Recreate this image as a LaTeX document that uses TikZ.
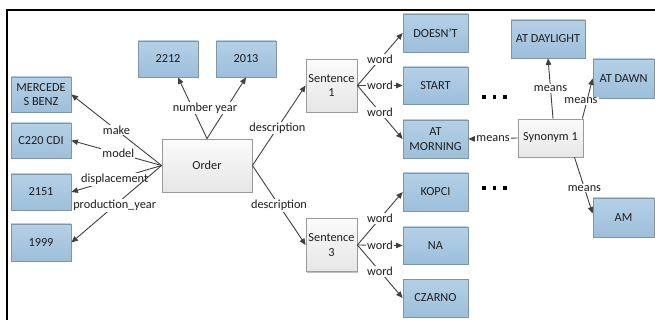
\documentclass[tikz,border=0pt]{standalone}
\usepackage{fontspec}
\setmainfont{Carlito}
\usetikzlibrary{arrows.meta,shadows,calc}

\definecolor{blueTop}{HTML}{B4D0E6}
\definecolor{blueBot}{HTML}{9DBFDB}
\definecolor{blueLine}{HTML}{7E96A8}
\definecolor{greyTop}{HTML}{FBFBFB}
\definecolor{greyBot}{HTML}{E6E6E6}
\definecolor{greyLine}{HTML}{9A9A9A}
\definecolor{edgeCol}{HTML}{404040}
\definecolor{txt}{HTML}{1E1E1E}

\tikzset{
  base/.style={rectangle, draw, line width=0.8pt, align=center, inner sep=1pt,
    text=txt, font=\fontsize{12.3}{14.5}\selectfont,
    drop shadow={shadow xshift=1pt, shadow yshift=-1pt, opacity=0.25, fill=black}},
  valbox/.style={base, draw=blueLine, top color=blueTop, bottom color=blueBot},
  entbox/.style={base, draw=greyLine, top color=greyTop, bottom color=greyBot},
  rel/.style={draw=edgeCol, line width=0.9pt, -{Triangle[length=6.5pt,width=5.5pt]}},
  lbl/.style={fill=white, inner sep=1pt, text=txt, font=\fontsize{12.3}{14.5}\selectfont},
}

\begin{document}
\begin{tikzpicture}[x=1pt, y=-1pt]
\useasboundingbox (0,0) rectangle (655,320);

% frame
\draw[line width=1.2pt, black] (7,320) -- (7,10) -- (655,10);

% car attributes
\node[valbox, minimum width=60pt, minimum height=35pt] (merc) at (41,94.5) {MERCEDE\\S BENZ};
\node[valbox, minimum width=60pt, minimum height=35pt] (c220) at (41,140.5) {C220 CDI};
\node[valbox, minimum width=60pt, minimum height=36pt] (disp) at (41,192) {2151};
\node[valbox, minimum width=60pt, minimum height=37pt] (prod) at (41,242.5) {1999};
\node[valbox, minimum width=60pt, minimum height=36pt] (numA) at (168,59) {2212};
\node[valbox, minimum width=60pt, minimum height=36pt] (numB) at (246,59) {2013};

% order and sentences
\node[entbox, minimum width=90pt, minimum height=53pt] (order) at (207,165.5) {Order};
\node[entbox, minimum width=51pt, minimum height=53pt] (sentA) at (331.5,85.5) {Sentence\\1};
\node[entbox, minimum width=51pt, minimum height=53pt] (sentC) at (331.5,245) {Sentence\\3};

% words
\node[valbox, minimum width=65pt, minimum height=38pt] (wDoesnt) at (435.5,33) {DOESN'T};
\node[valbox, minimum width=65pt, minimum height=37pt] (wStart) at (435.5,85.5) {START};
\node[valbox, minimum width=65pt, minimum height=38pt] (wMorning) at (435.5,139) {AT\\MORNING};
\node[valbox, minimum width=65pt, minimum height=38pt] (wKopci) at (435.5,192) {KOPCI};
\node[valbox, minimum width=65pt, minimum height=37pt] (wNa) at (435.5,245.5) {NA};
\node[valbox, minimum width=65pt, minimum height=38pt] (wCzarno) at (435.5,298) {CZARNO};

% synonyms
\node[entbox, minimum width=65pt, minimum height=38pt] (syn) at (550.5,138) {Synonym 1};
\node[valbox, minimum width=74pt, minimum height=38pt] (daylight) at (548,39) {AT DAYLIGHT};
\node[valbox, minimum width=61pt, minimum height=39pt] (dawn) at (623.5,78.5) {AT DAWN};
\node[valbox, minimum width=61pt, minimum height=39pt] (am) at (623.5,217.5) {AM};

% ellipses
\foreach \yy in {97,188} {
  \foreach \xx in {484,494.5,505} {
    \fill[black] (\xx-1.6,\yy-1.6) rectangle (\xx+1.6,\yy+1.6);
  }
}

% order relations
\draw[rel] (order.west) -- node[lbl, pos=0.5] {make} (merc.east);
\draw[rel] (order.west) -- node[lbl, pos=0.48] {model} (c220.east);
\draw[rel] (order.west) -- node[lbl, pos=0.52] {displacement} (disp.east);
\draw[rel] (order.west) -- node[lbl, pos=0.52] {production\_year} (prod.east);
\draw[rel] (order.north) -- ([xshift=10pt]numA.south);
\draw[rel] (order.north) -- (numB.south);
\node[lbl] (numLbl) at (205,108) {number year};
\draw[rel] (order.east) -- node[lbl, pos=0.47] {description} (sentA.west);
\draw[rel] (order.east) -- node[lbl, pos=0.5] {description} (sentC.west);

% sentence words
\draw[rel] (sentA.east) -- node[lbl, pos=0.5] {word} (wDoesnt.west);
\draw[rel] (sentA.east) -- node[lbl, pos=0.5] {word} (wStart.west);
\draw[rel] (sentA.east) -- node[lbl, pos=0.5] {word} (wMorning.west);
\draw[rel] (sentC.east) -- node[lbl, pos=0.5] {word} (wKopci.west);
\draw[rel] (sentC.east) -- node[lbl, pos=0.5] {word} (wNa.west);
\draw[rel] (sentC.east) -- node[lbl, pos=0.5] {word} (wCzarno.west);

% synonym meanings
\draw[rel] (syn.west) -- node[lbl, pos=0.5] {means} (wMorning.east);
\draw[rel] ([xshift=2.5pt]syn.north) -- node[lbl, pos=0.5] {means} (daylight.south);
\draw[rel] ([xshift=-1pt]syn.north east) -- node[lbl, pos=0.45, xshift=-6pt] {means} (dawn.west);
\draw[rel] ([xshift=24pt]syn.south) -- node[lbl, pos=0.55] {means} ([yshift=4pt]am.west);
\end{tikzpicture}
\end{document}
